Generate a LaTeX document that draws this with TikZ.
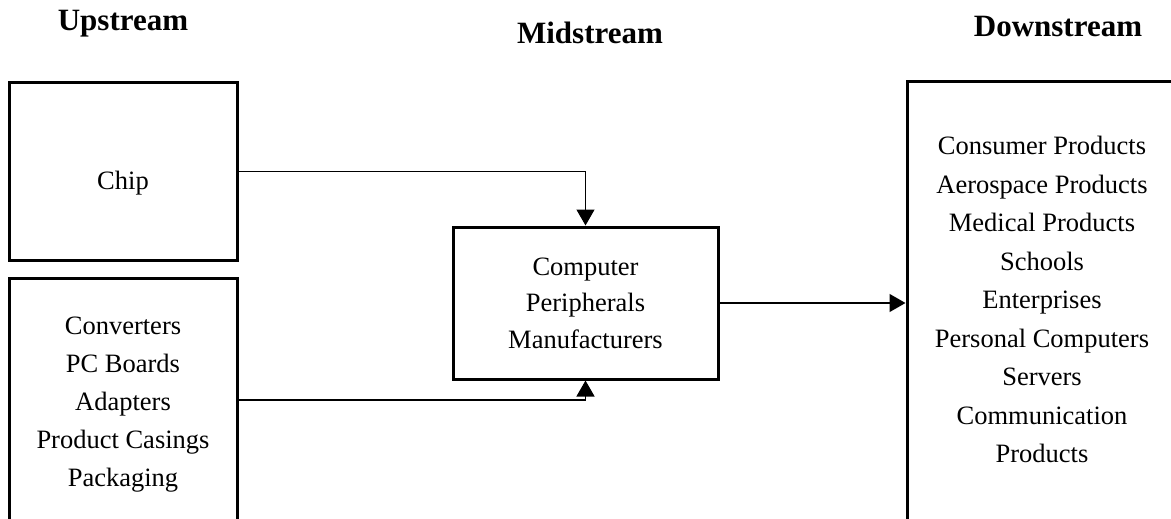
\documentclass[tikz,border=0pt]{standalone}
\usepackage{fontspec}
\setmainfont{Liberation Serif}
\usetikzlibrary{arrows.meta}
\begin{document}
\begin{tikzpicture}[x=1pt,y=-1pt,
  stagebox/.style={draw=black,line width=3pt,rectangle,inner sep=0pt},
  boxtext/.style={align=center,inner sep=0pt,font=\fontsize{26.5}{38}\selectfont},
  heading/.style={font=\fontsize{31}{36}\selectfont\bfseries,inner sep=0pt,anchor=base},
  conn/.style={line width=1.3pt,-{Triangle[length=16pt,width=18pt]}}]
\useasboundingbox (0,0) rectangle (1171,519);
\clip (0,0) rectangle (1171,519);
\fill[white] (0,0) rectangle (1171,519);

% stage headings
\node[heading] (hup)   at (123,31)  {Upstream};
\node[heading] (hmid)  at (590,44)  {Midstream};
\node[heading] (hdown) at (1058,37) {Downstream};

% upstream boxes
\node[stagebox,minimum width=228pt,minimum height=177pt] (chip) at (123,171.5) {};
\node[boxtext] (chiptext) at (123,183) {Chip};
\node[stagebox,minimum width=228pt,minimum height=262pt] (parts) at (123,409) {};
\node[boxtext] (partstext) at (123,404.5)
  {Converters\\PC Boards\\Adapters\\Product Casings\\Packaging};

% midstream box
\node[stagebox,minimum width=265pt,minimum height=152pt] (maker) at (585.5,303) {};
\node[boxtext,font=\fontsize{26.5}{36.5}\selectfont] (makertext) at (585.5,303)
  {Computer\\Peripherals\\Manufacturers};

% downstream box
\node[stagebox,minimum width=283pt,minimum height=458pt] (users) at (1048.5,311) {};
\node[boxtext,font=\fontsize{26.5}{38.5}\selectfont] (userstext) at (1042,299.5)
  {Consumer Products\\Aerospace Products\\Medical Products\\Schools\\Enterprises\\Personal Computers\\Servers\\Communication\\Products};

% connectors
\coordinate (partsout) at (parts.east |- 0,400);
\draw[conn] (chip.east) -| (maker.north);
\draw[conn] (partsout) -| (maker.south);
\draw[conn] (maker.east) -- (maker.east -| users.west);
\end{tikzpicture}
\end{document}
